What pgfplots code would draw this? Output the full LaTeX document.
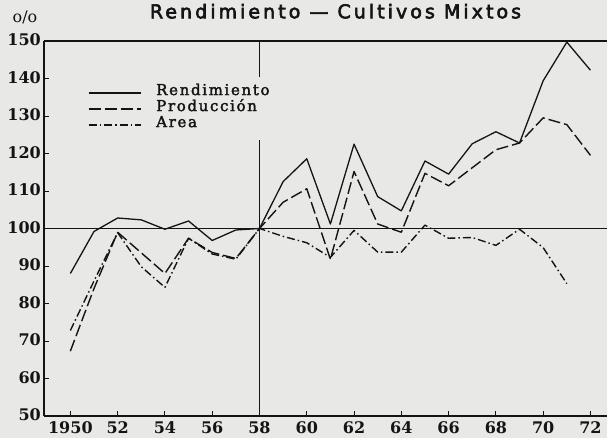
\documentclass[border=0pt]{standalone}
\usepackage{pgfplots}
\pgfplotsset{compat=1.18}
\usepackage{fontspec}
\setmainfont{DejaVu Serif}
\newfontfamily\legfont[LetterSpace=11, FakeBold=2.2]{DejaVu Serif}
\newfontfamily\titlefont[LetterSpace=16, FakeBold=3]{DejaVu Sans}
\definecolor{paper}{RGB}{232,232,230}
\definecolor{ink}{RGB}{20,20,20}
\begin{document}
\begin{tikzpicture}
\fill[paper] (-44pt,-22pt) rectangle (563pt,416pt);
\path[use as bounding box] (-44pt,-22pt) rectangle (563pt,416pt);
\begin{axis}[
  at={(0pt,0pt)}, anchor=south west,
  scale only axis, width=563pt, height=375pt,
  xmin=1948.885, xmax=1972.7, ymin=50, ymax=150,
  axis x line*=bottom, axis y line*=left,
  clip=false,
  axis line style={line width=1.4pt, ink},
  tick align=inside, major tick length=5pt,
  major tick style={line width=0.9pt, ink},
  xtick={1950,1952,...,1972},
  xticklabels={1950,52,54,56,58,60,62,64,66,68,70,72},
  ytick={50,60,...,150},
  /pgf/number format/assume math mode=true,
  ticklabel style={font=\fontsize{16}{16}\selectfont\bfseries, text=ink},
  xticklabel style={anchor=north, inner sep=0pt, yshift=-5.5pt},
  yticklabel style={anchor=east, inner sep=0pt, xshift=-3pt, yshift=1pt},
  legend image code/.code={\draw[#1] (0pt,0pt) -- (52pt,0pt); \path (67pt,0pt);},
  legend style={draw=none, fill=none, at={(axis cs:1950.73,138.3)}, anchor=north west,
    inner sep=0pt, font=\legfont\fontsize{15}{15}\selectfont, text=ink,
    nodes={inner sep=0pt, text height=10pt, text depth=6pt}, row sep=0pt},
  legend cell align=left,
]
\addplot[ink, line width=1.3pt, line join=round] coordinates {
(1950,88) (1951,99.2) (1952,102.8) (1953,102.3) (1954,99.8) (1955,102) (1956,96.8)
(1957,99.6) (1958,100) (1959,112.5) (1960,118.6) (1961,101.2) (1962,122.5) (1963,108.5)
(1964,104.7) (1965,118) (1966,114.5) (1967,122.6) (1968,125.8) (1969,122.8) (1970,139.4)
(1971,149.7) (1972,142.2)};
\addlegendentry{Rendimiento}
\addplot[ink, line width=1.4pt, line join=round, dash pattern=on 12pt off 4pt] coordinates {
(1950,67.3) (1951,84) (1952,99) (1953,93.5) (1954,88) (1955,97.4) (1956,93.6)
(1957,92) (1958,100) (1959,107) (1960,110.6) (1961,91.8) (1962,115.2) (1963,101.2)
(1964,99) (1965,114.7) (1966,111.4) (1967,116.2) (1968,121) (1969,122.8) (1970,129.5)
(1971,127.7) (1972,119.5)};
\addlegendentry{Producción}
\addplot[ink, line width=1.4pt, line join=round, dash pattern=on 8pt off 3pt on 1.5pt off 3pt] coordinates {
(1950,72.8) (1951,86) (1952,98.9) (1953,89.8) (1954,84.3) (1955,97.4) (1956,93.2)
(1957,91.8) (1958,100) (1959,97.9) (1960,96.2) (1961,92.3) (1962,99.5) (1963,93.7)
(1964,93.7) (1965,100.9) (1966,97.4) (1967,97.6) (1968,95.5) (1969,99.8) (1970,94.9)
(1971,85.3)};
\addlegendentry{Area}
\addplot[ink, line width=0.9pt, forget plot] coordinates {(1948.885,100) (1972.7,100)};
\addplot[ink, line width=0.9pt, forget plot] coordinates {(1958,50) (1958,123.5)};
\addplot[ink, line width=0.9pt, forget plot] coordinates {(1958,140.3) (1958,150)};
\addplot[ink, line width=1.4pt, forget plot] coordinates {(1948.885,150) (1972.7,150)};
\end{axis}
\node[anchor=base, font=\titlefont\fontsize{19}{19}\selectfont, text=ink, inner sep=0pt] at (291.5pt,397.7pt) {Rendimiento — Cultivos Mixtos};
\node[anchor=base, font=\fontsize{16}{16}\selectfont, text=ink, inner sep=0pt] at (-19pt,393pt) {o/o};
\end{tikzpicture}
\end{document}
